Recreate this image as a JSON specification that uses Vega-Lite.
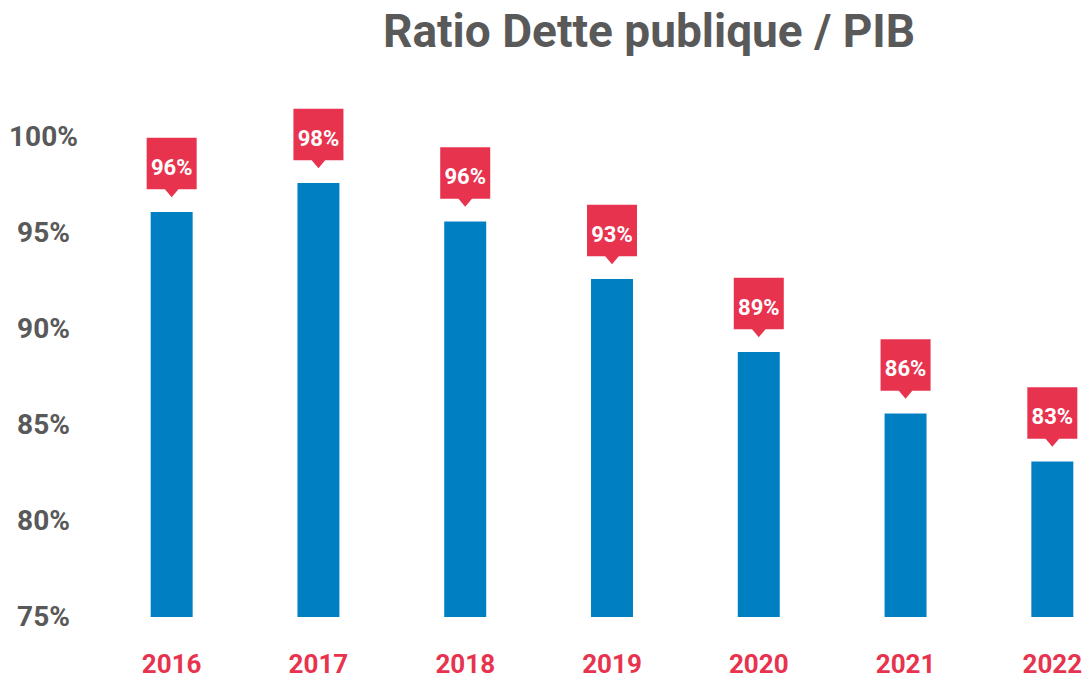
{
  "$schema": "https://vega.github.io/schema/vega-lite/v6.json",
  "autosize": {"type": "none"},
  "padding": {"left": 136, "top": 137, "right": 0, "bottom": 60},
  "width": 952,
  "height": 480,
  "background": "white",
  "config": {"view": {"stroke": null}, "font": "Roboto"},
  "title": {
    "text": "Ratio Dette publique / PIB",
    "font": "Roboto",
    "fontSize": 46,
    "fontWeight": "bold",
    "color": "#595959",
    "anchor": "middle",
    "frame": "group",
    "baseline": "alphabetic",
    "dx": 37,
    "offset": 16
  },
  "data": {
    "values": [
      {"year": "2016", "value": 96.1, "label": "96%"},
      {"year": "2017", "value": 97.6, "label": "98%"},
      {"year": "2018", "value": 95.6, "label": "96%"},
      {"year": "2019", "value": 92.6, "label": "93%"},
      {"year": "2020", "value": 88.8, "label": "89%"},
      {"year": "2021", "value": 85.6, "label": "86%"},
      {"year": "2022", "value": 83.1, "label": "83%"}
    ]
  },
  "encoding": {
    "x": {
      "field": "year",
      "type": "nominal",
      "scale": {"paddingInner": 0.714, "paddingOuter": 0.1},
      "axis": {
        "title": null,
        "labelAngle": 0,
        "domain": false,
        "ticks": false,
        "grid": false,
        "labelFont": "Roboto",
        "labelFontSize": 26,
        "labelFontWeight": "bold",
        "labelColor": "#E8334F",
        "labelPadding": 34
      }
    },
    "y": {
      "field": "value",
      "type": "quantitative",
      "scale": {"domain": [75, 100], "zero": false, "nice": false},
      "axis": {
        "title": null,
        "values": [75, 80, 85, 90, 95, 100],
        "labelExpr": "datum.value + '%'",
        "domain": false,
        "ticks": false,
        "grid": false,
        "labelFont": "Roboto",
        "labelFontSize": 28,
        "labelFontWeight": "bold",
        "labelColor": "#595959",
        "labelAlign": "center",
        "labelBaseline": "middle",
        "labelPadding": 93
      }
    }
  },
  "layer": [
    {
      "mark": {"type": "bar", "color": "#0080C3"},
      "encoding": {"y2": {"datum": 75}}
    },
    {
      "mark": {
        "type": "point",
        "shape": "M-1,-1.03H1V1.03H0.27L0,1.35L-0.27,1.03H-1Z",
        "size": 2500,
        "filled": true,
        "opacity": 1,
        "color": "#E8334F",
        "strokeWidth": 0,
        "yOffset": -48.5
      }
    },
    {
      "mark": {
        "type": "text",
        "color": "white",
        "font": "Roboto",
        "fontSize": 22,
        "fontWeight": "bold",
        "baseline": "middle",
        "align": "center",
        "yOffset": -44
      },
      "encoding": {"text": {"field": "label"}}
    }
  ]
}
